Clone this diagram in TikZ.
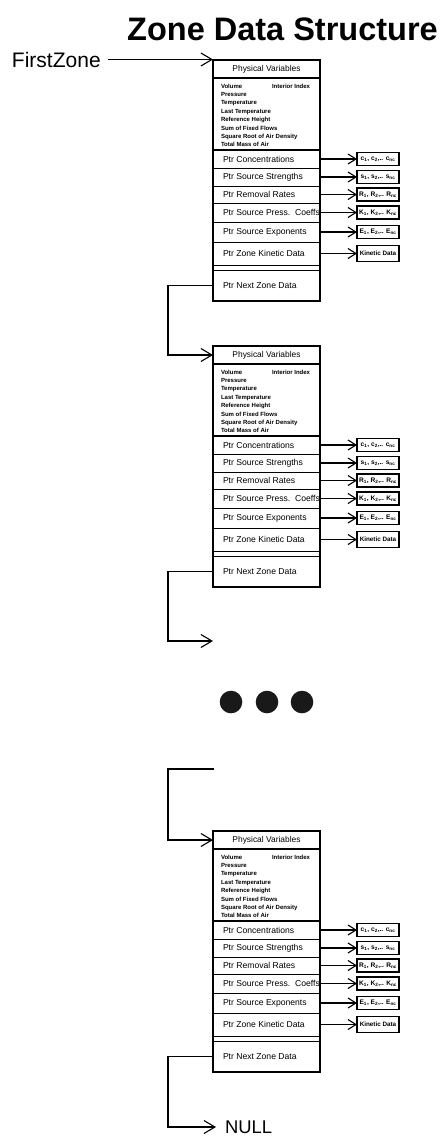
\documentclass[tikz,border=0pt]{standalone}
\usepackage{fontspec}
\setmainfont{Liberation Sans}
\usetikzlibrary{arrows.meta}
\tikzset{
  every node/.style={inner sep=0pt, outer sep=0pt},
  zframe/.style={draw, line width=1.3pt, minimum width=107pt, minimum height=241pt, anchor=north west},
  rowbox/.style={draw, line width=0.9pt, minimum width=107pt, anchor=north west},
  rowtxt/.style={font=\fontsize{8.6}{10}\selectfont, anchor=west},
  hdrtxt/.style={font=\fontsize{8.4}{10}\selectfont},
  vartxt/.style={font=\bfseries\fontsize{6}{7}\selectfont, anchor=base west},
  databox/.style={draw, line width=1.2pt, minimum width=42pt, minimum height=13pt, font=\bfseries\fontsize{6.6}{7}\selectfont},
  bigarrow/.style={-{Straight Barb[length=11pt,width=13pt]}, line width=1.1pt},
  smallarrow/.style={-{Straight Barb[length=8pt,width=10pt]}, line width=1.1pt},
  dot/.style={fill=black!90}
}
\newcommand\zrow[6]{% prefix, key, offset, height, text, data
  \node[rowbox,minimum height=#4pt] (#1#2) at (213,#3) {};
  \node[rowtxt] (#1#2t) at (223,#3+#4/2) {#5};
  \node[databox] (#1#2d) at (378,#3+#4/2) {#6};
  \draw[smallarrow] (#1#2.east) -- (#1#2d.west);
}
\newcommand\zonebox[2]{% prefix, top
\begin{scope}[shift={(0,#2)}]
  \node[zframe] (#1frame) at (213,0) {};
  \node[rowbox,minimum height=18pt,line width=1.2pt] (#1hdr) at (213,0) {};
  \node[hdrtxt] (#1hdrt) at (266.5,9.5) {Physical Variables};
  \node[rowbox,minimum height=72pt,line width=1.2pt] (#1vars) at (213,18) {};
  \foreach \t [count=\i] in {Volume,Pressure,Temperature,Last Temperature,Reference Height,Sum of Fixed Flows,Square Root of Air Density,Total Mass of Air}
    \node[vartxt] (#1v\i) at (221,19.6+8.4*\i) {\t};
  \node[vartxt] (#1vii) at (272,28) {Interior Index};
  \zrow{#1}{conc}{90}{18}{Ptr Concentrations}{c\textsubscript{1}, c\textsubscript{2},.. c\textsubscript{nc}}
  \zrow{#1}{str}{108}{18}{Ptr Source Strengths}{s\textsubscript{1}, s\textsubscript{2},.. s\textsubscript{nc}}
  \zrow{#1}{rem}{126}{17}{Ptr Removal Rates}{R\textsubscript{1}, R\textsubscript{2},.. R\textsubscript{nc}}
  \zrow{#1}{prs}{143}{19}{Ptr Source Press.\ \ Coeffs}{K\textsubscript{1}, K\textsubscript{2},.. K\textsubscript{nc}}
  \zrow{#1}{exp}{162}{20}{Ptr Source Exponents}{E\textsubscript{1}, E\textsubscript{2},.. E\textsubscript{nc}}
  \node[rowbox,minimum height=23pt] (#1kin) at (213,182) {};
  \node[rowtxt] (#1kint) at (223,193.5) {Ptr Zone Kinetic Data};
  \node[databox,minimum height=16pt,font=\bfseries\fontsize{6.3}{7}\selectfont] (#1kind) at (378,193.5) {Kinetic Data};
  \draw[smallarrow] (#1kin.east) -- (#1kind.west);
  \node[rowbox,minimum height=31pt] (#1next) at (213,210) {};
  \node[rowtxt] (#1nextt) at (223,225.5) {Ptr Next Zone Data};
\end{scope}}
\begin{document}
\begin{tikzpicture}[x=1pt,y=-1pt]
\useasboundingbox (0,0) rectangle (443,1138);
\node[font=\bfseries\fontsize{32.5}{36}\selectfont, anchor=base] (title) at (282.5,40) {Zone Data Structure};
\node[font=\fontsize{21}{24}\selectfont, anchor=base west] (first) at (12,67) {FirstZone};

\zonebox{za}{60}
\zonebox{zb}{346}
\zonebox{zc}{831}

\draw[bigarrow] ([xshift=7pt]first.east) -- (first.east -| zahdr.west);
\draw[bigarrow] (zanext.west) -- (168,285.5) |- (zbhdr.west);

\coordinate (gapa) at (213,641);
\draw[bigarrow] (zbnext.west) -- (168,571.5) |- (gapa);

\fill[dot] (231,702) circle (11.3);
\fill[dot] (267,702) circle (11.3);
\fill[dot] (302,702) circle (11.3);

\coordinate (gapb) at (214,769);
\draw[bigarrow] (gapb) -- (168,769) |- (zchdr.west);

\node[font=\fontsize{18.4}{22}\selectfont, anchor=west] (null) at (225,1127) {NULL};
\draw[bigarrow] (zcnext.west) -- (168,1056.5) |- ([xshift=-9pt]null.west);
\end{tikzpicture}
\end{document}
